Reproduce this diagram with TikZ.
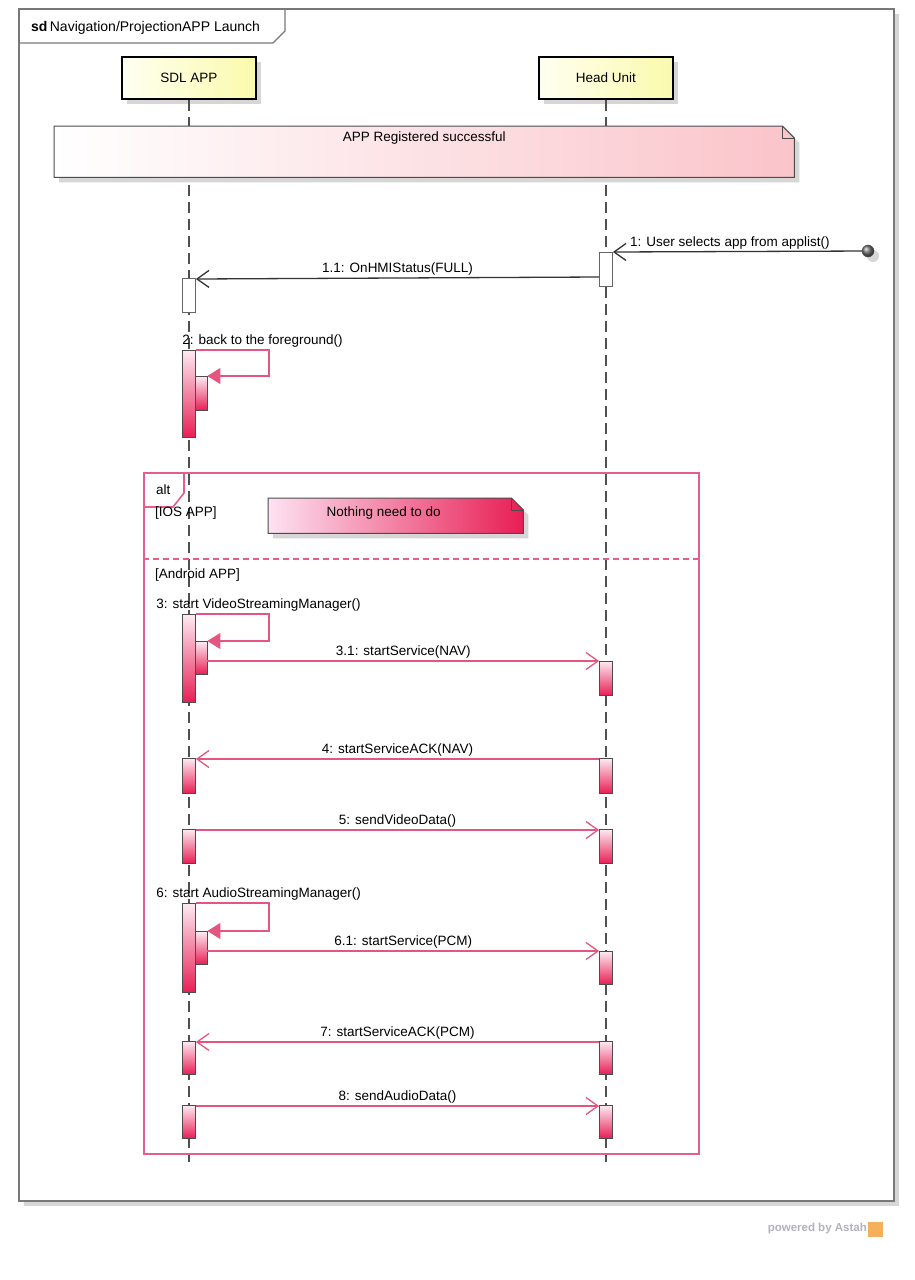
\documentclass[tikz,border=0pt]{standalone}
\usepackage{fontspec}
\setmainfont{Liberation Sans}
\usetikzlibrary{arrows.meta}
\usetikzlibrary{positioning}
\usetikzlibrary{shadows}
\definecolor{lineclr}{RGB}{80,80,80}
\definecolor{frameclr}{RGB}{120,120,120}
\definecolor{msgclr}{RGB}{228,86,128}
\definecolor{altclr}{RGB}{226,96,136}
\definecolor{barlight}{RGB}{253,234,242}
\definecolor{bardeep}{RGB}{232,30,84}
\definecolor{headlight}{RGB}{255,255,242}
\definecolor{headyellow}{RGB}{250,250,172}
\definecolor{notepink}{RGB}{250,196,202}
\definecolor{notelight}{RGB}{253,226,242}
\definecolor{astahclr}{RGB}{178,178,184}
\definecolor{astahorange}{RGB}{244,176,90}

\begin{document}
\begin{tikzpicture}[
					x=1pt, y=-1pt,
					font=\fontsize{13.5}{16}\selectfont,
					node distance=4pt,
					softshadow/.style={drop shadow={shadow xshift=5pt, shadow yshift=-5pt, fill=black!16, opacity=1}},
					head/.style={draw, line width=2.6pt, minimum width=134pt, minimum height=42pt, left color=headlight, right color=headyellow, softshadow},
					lifeline/.style={draw=lineclr, line width=1.5pt, dash pattern=on 11pt off 6pt},
					act/.style={draw=black!70, line width=.8pt, minimum width=13pt, inner sep=0pt, anchor=north, top color=barlight, bottom color=bardeep},
					actin/.style={act, minimum width=12pt},
					actwhite/.style={draw=black!60, line width=.8pt, minimum width=13pt, inner sep=0pt, anchor=north, fill=white},
					msg/.style={draw=msgclr, line width=1.3pt, -{Straight Barb[length=12pt, width=17pt, line width=1.3pt]}},
					blackmsg/.style={draw=black!80, line width=1.3pt, -{Straight Barb[length=12pt, width=17pt, line width=1.3pt]}},
					selfmsg/.style={draw=msgclr, line width=1.3pt, -{Triangle[length=13pt, width=16pt, fill=msgclr]}},
					lbl/.style={above=1pt, inner sep=1pt},
					txt/.style={inner sep=0pt, anchor=base west}
				]
					\useasboundingbox (0,0) rectangle (915,1280);
					\node[draw=frameclr, line width=2pt, fill=white, minimum width=875pt, minimum height=1192pt, anchor=north west, inner sep=0pt, softshadow] (frame) at (18,8) {};
					\coordinate (tabend) at (285,8);
					\draw[frameclr, line width=1.2pt] ([yshift=-35pt]frame.north west) -- ++(255,0) -- ++(12,-12) -- (tabend);
					\node[anchor=west, inner sep=0pt, font=\fontsize{14}{16}\selectfont] (title) at (31,28) {\textbf{sd}\,Navigation/ProjectionAPP Launch};

					\node[head] (sdl) at (189,78) {SDL APP};
					\node[head] (hu) at (606,78) {Head Unit};
					\coordinate (sdlend) at (189,1162);
					\coordinate (huend) at (606,1162);
					\draw[lifeline] (sdl) -- (sdlend);
					\draw[lifeline] (hu) -- (huend);

					\node[minimum width=740pt, minimum height=51pt, anchor=north west, inner sep=0pt] (registered) at (54,126) {};
					\path[draw=black!70, line width=1pt, left color=white, right color=notepink, softshadow] (registered.south west) -- (registered.north west) -- ([xshift=-12pt]registered.north east) -- ([yshift=-12pt]registered.north east) -- (registered.south east) -- cycle;
					\draw[black!70, line width=1pt] ([xshift=-12pt]registered.north east) |- ([yshift=-12pt]registered.north east);
					\node[below=6pt of registered.north, inner sep=0pt] (registeredtxt) {APP Registered successful};

					\node[circle, draw=black!70, ball color=black!55, minimum size=12pt, inner sep=0pt, softshadow] (user) at (868,251) {};
					\node[actwhite, minimum height=34pt] (hu1) at (606,252) {};
					\node[actwhite, minimum height=34pt] (sdl1) at (189,278) {};
					\draw[blackmsg] (user) -- (hu1.north east) node[pos=.53, lbl] {1: User selects app from applist()};
					\draw[blackmsg] ([yshift=-25pt]hu1.north west) -- ([yshift=-1pt]sdl1.north east) node[midway, lbl] {1.1: OnHMIStatus(FULL)};

					\node[act, minimum height=87pt] (o2) at (189,350) {};
					\node[actin, minimum height=34pt] (i2) at (201,376) {};
					\draw[selfmsg] (o2.north east) -- ++(73,0) |- (i2.north east);
					\node[txt] (m2) at ([yshift=6pt]o2.north west) {2: back to the foreground()};

					\node[draw=altclr, line width=1.6pt, minimum width=555pt, minimum height=681pt, anchor=north west, inner sep=0pt] (alt) at (143,472) {};
					\draw[altclr, line width=1.6pt] (alt.north west) ++(41,0) -- ++(0,21) -- ++(-11,14) -- ++(-30,0);
					\node[anchor=west, inner sep=0pt] (altlbl) at (156,490) {alt};
					\node[anchor=west, inner sep=0pt] (ios) at (155,513) {[IOS APP]};
					\coordinate (sep) at (420,559);
					\draw[altclr, line width=1.4pt, dash pattern=on 6pt off 4pt] (alt.west |- sep) -- (alt.east |- sep);
					\node[anchor=west, inner sep=0pt] (android) at (155,575) {[Android APP]};

					\node[minimum width=255pt, minimum height=35pt, anchor=north west, inner sep=0pt] (nothing) at (268,498) {};
					\path[draw=black!70, line width=1pt, left color=notelight, right color=bardeep, softshadow] (nothing.south west) -- (nothing.north west) -- ([xshift=-12pt]nothing.north east) -- ([yshift=-12pt]nothing.north east) -- (nothing.south east) -- cycle;
					\draw[black!70, line width=1pt] ([xshift=-12pt]nothing.north east) |- ([yshift=-12pt]nothing.north east);
					\node (nothingtxt) at ([xshift=-12pt, yshift=3pt]nothing.center) {Nothing need to do};

					\node[act, minimum height=88pt] (o3) at (189,614) {};
					\node[actin, minimum height=33pt] (i3) at (201,641) {};
					\draw[selfmsg] (o3.north east) -- ++(73,0) |- (i3.north east);
					\node[txt] (m3) at ([xshift=-26pt, yshift=6pt]o3.north west) {3: start VideoStreamingManager()};
					\node[act, minimum height=34pt] (h31) at (606,661) {};
					\draw[msg] ([yshift=-20pt]i3.north east) -- (h31.north west) node[midway, lbl] {3.1: startService(NAV)};

					\node[act, minimum height=35pt] (s4) at (189,758) {};
					\node[act, minimum height=35pt] (h4) at (606,758) {};
					\draw[msg] ([yshift=-1pt]h4.north west) -- ([yshift=-1pt]s4.north east) node[midway, lbl] {4: startServiceACK(NAV)};

					\node[act, minimum height=34pt] (s5) at (189,829) {};
					\node[act, minimum height=34pt] (h5) at (606,829) {};
					\draw[msg] ([yshift=-1pt]s5.north east) -- ([yshift=-1pt]h5.north west) node[midway, lbl] {5: sendVideoData()};

					\node[act, minimum height=89pt] (o6) at (189,903) {};
					\node[actin, minimum height=33pt] (i6) at (201,931) {};
					\draw[selfmsg] (o6.north east) -- ++(73,0) |- (i6.north east);
					\node[txt] (m6) at ([xshift=-26pt, yshift=6pt]o6.north west) {6: start AudioStreamingManager()};
					\node[act, minimum height=33pt] (h61) at (606,951) {};
					\draw[msg] ([yshift=-20pt]i6.north east) -- (h61.north west) node[midway, lbl] {6.1: startService(PCM)};

					\node[act, minimum height=33pt] (s7) at (189,1041) {};
					\node[act, minimum height=33pt] (h7) at (606,1041) {};
					\draw[msg] ([yshift=-1pt]h7.north west) -- ([yshift=-1pt]s7.north east) node[midway, lbl] {7: startServiceACK(PCM)};

					\node[act, minimum height=33pt] (s8) at (189,1105) {};
					\node[act, minimum height=33pt] (h8) at (606,1105) {};
					\draw[msg] ([yshift=-1pt]s8.north east) -- ([yshift=-1pt]h8.north west) node[midway, lbl] {8: sendAudioData()};

					\node[anchor=east, inner sep=0pt, text=astahclr, font=\fontsize{11.5}{13}\selectfont\bfseries] (astah) at (867,1229) {powered by Astah};
					\node[right=1pt of astah, fill=astahorange, minimum size=15pt, inner sep=0pt] (astahlogo) {};
				\end{tikzpicture}
\end{document}
